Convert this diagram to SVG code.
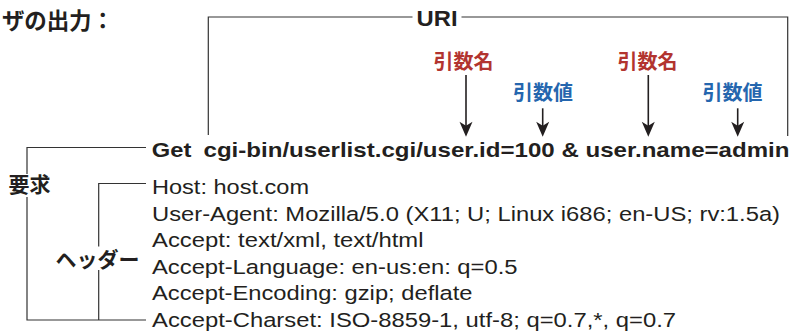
<svg xmlns="http://www.w3.org/2000/svg" width="790" height="335" viewBox="0 0 790 335">
<style>
.t{font-family:"Liberation Sans",Arial,sans-serif;fill:#231f20}
.b{font-weight:bold}
.jp{font-family:"Noto Sans CJK JP","Noto Sans CJK SC",sans-serif;font-weight:bold}
.red{fill:#b2342f}
.blue{fill:#2566ae}
.br{stroke:#333;stroke-width:1.2;fill:none}
.ar{stroke:#231f20;stroke-width:1.6;fill:none;marker-end:url(#ah)}
</style>
<defs>
<marker id="ah" markerUnits="userSpaceOnUse" markerWidth="17" markerHeight="14" viewBox="-10 -7 17 14" refX="0" refY="0" orient="auto">
<path d="M6,0 L-9,-6.5 L-5,0 L-9,6.5 Z" fill="#231f20"/>
</marker>
</defs>
<rect width="790" height="335" fill="#fff"/>
<g id="title"><text class="jp" x="2" y="29" font-size="22.5" fill="#231f20" textLength="112" lengthAdjust="spacing">ザの出力：</text></g>
<g id="uri"><text class="t b" x="416.5" y="26" font-size="22" textLength="41" lengthAdjust="spacingAndGlyphs">URI</text></g>
<g id="argname1"><text class="jp red" x="463.5" y="69" font-size="20" text-anchor="middle">引数名</text></g>
<g id="argval1"><text class="jp blue" x="543" y="100" font-size="20" text-anchor="middle">引数値</text></g>
<g id="argname2"><text class="jp red" x="647.5" y="69" font-size="20" text-anchor="middle">引数名</text></g>
<g id="argval2"><text class="jp blue" x="732.5" y="100" font-size="20" text-anchor="middle">引数値</text></g>
<g id="request-line">
<text class="t b" x="151.8" y="156.7" font-size="20.5" textLength="39.5" lengthAdjust="spacingAndGlyphs">Get</text>
<text class="t b" x="203.5" y="156.7" font-size="20.5" textLength="586" lengthAdjust="spacingAndGlyphs">cgi-bin/userlist.cgi/user.id=100 &amp; user.name=admin</text>
</g>
<g id="headers">
<text class="t" x="152" y="194.3" font-size="20.5" textLength="157" lengthAdjust="spacingAndGlyphs">Host: host.com</text>
<text class="t" x="152" y="220.8" font-size="20.5" textLength="628" lengthAdjust="spacingAndGlyphs">User-Agent: Mozilla/5.0 (X11; U; Linux i686; en-US; rv:1.5a)</text>
<text class="t" x="152" y="247.3" font-size="20.5" textLength="271.5" lengthAdjust="spacingAndGlyphs">Accept: text/xml, text/html</text>
<text class="t" x="152" y="273.8" font-size="20.5" textLength="365.5" lengthAdjust="spacingAndGlyphs">Accept-Language: en-us:en: q=0.5</text>
<text class="t" x="152" y="300.3" font-size="20.5" textLength="320.5" lengthAdjust="spacingAndGlyphs">Accept-Encoding: gzip; deflate</text>
<text class="t" x="152" y="326.8" font-size="20.5" textLength="524" lengthAdjust="spacingAndGlyphs">Accept-Charset: ISO-8859-1, utf-8; q=0.7,*, q=0.7</text>
</g>
<g id="request-label"><text class="jp" x="8.5" y="192" font-size="21" fill="#231f20">要求</text></g>
<g id="header-label"><text class="jp" x="55.5" y="266.5" font-size="21" fill="#231f20">ヘッダー</text></g>
<g id="connectors">
<path class="br" d="M208.3,135 V17 H412.5 M461.5,17 H787.7 V136"/>
<path class="br" d="M146,147.5 H27 V174 M27,197 V320 H146"/>
<path class="br" d="M146,183.5 H98.7 V246.5 M98.7,270 V320"/>
<line class="ar" x1="466" y1="75" x2="466" y2="130.7"/>
<line class="ar" x1="542.7" y1="108.3" x2="542.7" y2="130.7"/>
<line class="ar" x1="648.3" y1="75" x2="648.3" y2="130.7"/>
<line class="ar" x1="737.7" y1="108.3" x2="737.7" y2="130.7"/>
</g>
</svg>
